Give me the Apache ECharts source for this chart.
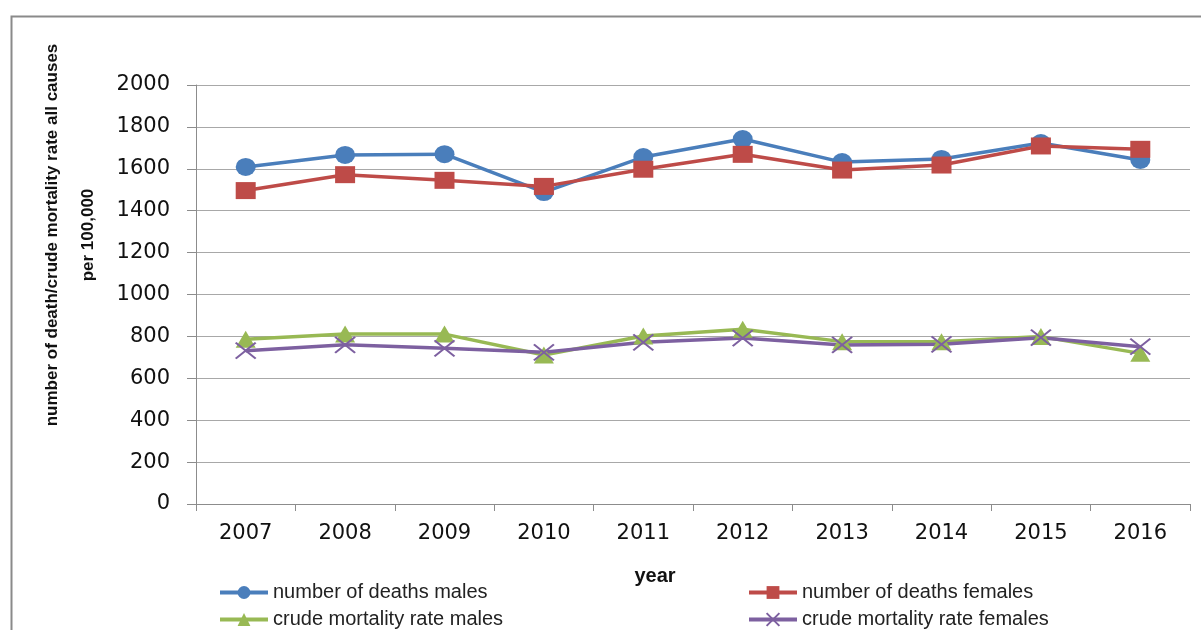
<!DOCTYPE html>
<html>
<head>
<meta charset="utf-8">
<script src="https://cdn.jsdelivr.net/npm/echarts@6/dist/echarts.min.js"></script>
<style>
  html, body { margin: 0; padding: 0; background: #fff; }
  #chart { width: 1201px; height: 630px; }
</style>
</head>
<body>
<div id="chart"></div>
<script>
// data
var years = ['2007', '2008', '2009', '2010', '2011', '2012', '2013', '2014', '2015', '2016']
var deathsMales = [1609, 1666, 1670, 1489, 1656, 1742, 1632, 1647, 1723, 1642]
var deathsFemales = [1496, 1572, 1545, 1516, 1598, 1669, 1594, 1618, 1709, 1693]
var crudeMales = [786, 811, 811, 711, 802, 834, 775, 775, 799, 719]
var crudeFemales = [732, 760, 743, 724, 772, 792, 759, 762, 794, 751]
var seriesNames = ['number of deaths males', 'number of deaths females', 'crude mortality rate males', 'crude mortality rate females']

var colors = ['#4A7EBB', '#BE4B48', '#98B954', '#7D60A0']
var tickFont = 'DejaVu Sans'

var myChart = echarts.init(document.getElementById('chart'))

function lineSeries(name, data, color, symbol, size, extra) {
  var s = {
    name: name,
    type: 'line',
    data: data,
    symbol: symbol,
    symbolSize: size,
    showAllSymbol: true,
    lineStyle: { color: color, width: 3.5 },
    itemStyle: { color: color },
    emphasis: { disabled: true },
    animation: false
  }
  if (extra) s.itemStyle = extra
  return s
}

var option = {
  animation: false,
  grid: { left: 196, right: 11, top: 85, bottom: 126 },
  xAxis: {
    type: 'category',
    data: years,
    boundaryGap: true,
    axisLine: { lineStyle: { color: '#8c8c8c', width: 1 } },
    axisTick: { show: true, length: 7, alignWithLabel: false, lineStyle: { color: '#8c8c8c' } },
    axisLabel: { color: '#111', fontSize: 21, fontFamily: tickFont, margin: 19 },
    splitLine: { show: false }
  },
  yAxis: {
    type: 'value',
    min: 0,
    max: 2000,
    interval: 200,
    axisLine: { show: true, lineStyle: { color: '#8c8c8c', width: 1 } },
    axisTick: { show: true, length: 9, lineStyle: { color: '#8c8c8c' } },
    axisLabel: {
      color: '#111', fontSize: 21, fontFamily: tickFont, margin: 26,
      formatter: function (v) { return String(v) }
    },
    splitLine: { lineStyle: { color: '#a8a8a8', width: 1 } }
  },
  legend: {
    data: seriesNames,
    left: 218,
    top: 581,
    width: 1070,
    padding: 0,
    itemWidth: 48,
    itemHeight: 16,
    itemGap: 4,
    lineStyle: { width: 4 },
    textStyle: { width: 470, fontSize: 20, lineHeight: 23, color: '#222', fontFamily: 'Liberation Sans' }
  },
  graphic: [
    {
      type: 'rect',
      shape: { x: 11.5, y: 16.5, width: 1300, height: 700 },
      style: { fill: 'none', stroke: '#8a8a8a', lineWidth: 2 },
      silent: true
    },
    {
      type: 'text',
      x: 70,
      y: 235,
      rotation: Math.PI / 2,
      style: {
        text: 'number of death/crude mortality rate all causes\nper 100,000',
        font: 'bold 17px "Liberation Sans"',
        fill: '#111',
        align: 'center',
        verticalAlign: 'middle',
        lineHeight: 36
      }
    },
    {
      type: 'text',
      x: 655,
      y: 576,
      style: {
        text: 'year',
        font: 'bold 20px "Liberation Sans"',
        fill: '#111',
        align: 'center',
        verticalAlign: 'middle'
      }
    }
  ],
  series: [
    lineSeries(seriesNames[0], deathsMales, colors[0], 'circle', [20, 18]),
    lineSeries(seriesNames[1], deathsFemales, colors[1], 'rect', [20, 17]),
    lineSeries(seriesNames[2], crudeMales, colors[2], 'triangle', [20, 17]),
    lineSeries(seriesNames[3], crudeFemales, colors[3], 'path://M0,0L10,8M10,0L0,8', [20, 16],
      { color: colors[3], borderColor: colors[3], borderWidth: 2 })
  ]
}

myChart.setOption(option)

window.addEventListener('resize', function () {
  myChart.resize()
})
</script>
</body>
</html>
